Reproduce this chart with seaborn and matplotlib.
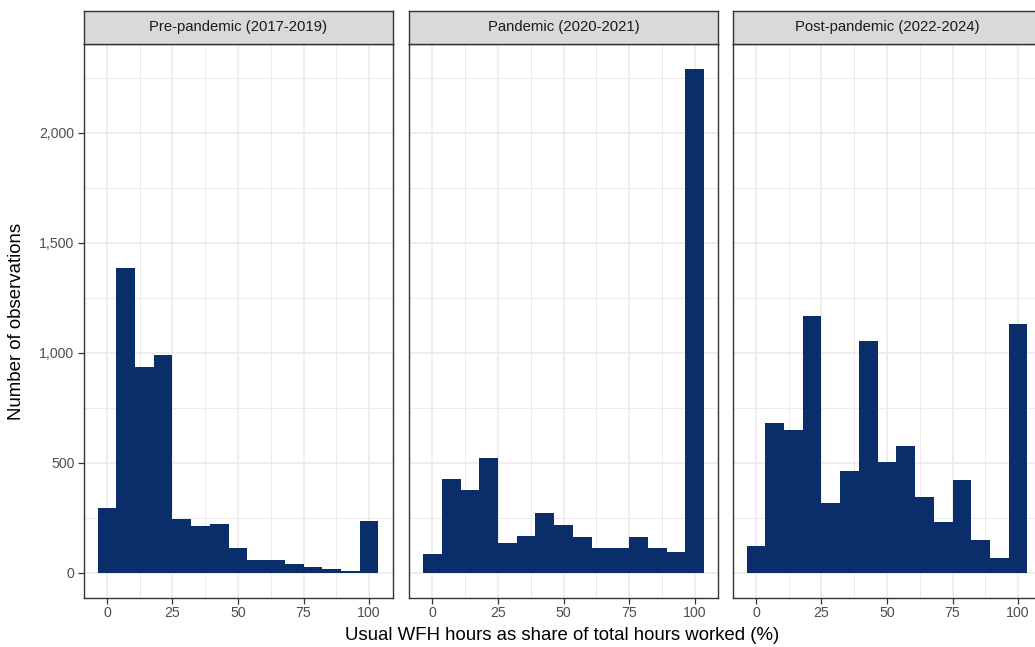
import numpy as np
import pandas as pd
import matplotlib
matplotlib.use("Agg")
import matplotlib.pyplot as plt
import seaborn as sns
from matplotlib.ticker import FuncFormatter, MultipleLocator

sns.set_theme(style="white")
plt.rcParams['font.family'] = ['Liberation Sans', 'DejaVu Sans']

# ---- data ----
periods = ["Pre-pandemic (2017-2019)", "Pandemic (2020-2021)", "Post-pandemic (2022-2024)"]
n_bins = 15
pre_counts = [296, 1387, 938, 990, 243, 211, 220, 112, 58, 58, 38, 25, 16, 8, 234]
pandemic_counts = [86, 428, 375, 521, 135, 169, 271, 219, 161, 112, 112, 161, 112, 94, 2290]
post_counts = [123, 683, 648, 1168, 316, 464, 1053, 502, 576, 345, 230, 423, 151, 69, 1132]
x_ticks = [0, 25, 50, 75, 100]
y_ticks = [0, 500, 1000, 1500, 2000]

counts_list = [pre_counts, pandemic_counts, post_counts]
centers = np.linspace(0, 100, n_bins)
bw = 100 / (n_bins - 1)
brange = (centers[0] - bw / 2, centers[-1] + bw / 2)

W, H = 1035, 647
fig = plt.figure(figsize=(W / 100, H / 100), dpi=100)

panel_lefts = [83.5, 409, 732.5]
panel_w = 309
panel_top, panel_bot = 44, 598
strip_top = 11

bar_color = "#0A2E6A"
grid_col = "#EBEBEB"
border_col = "#333333"

span = brange[1] - brange[0]
xmin, xmax = brange[0] - 0.05 * span, brange[1] + 0.05 * span
ymax_data = max(max(c) for c in counts_list)
ymin, ymax = -0.05 * ymax_data, 1.05 * ymax_data

for i, (period, counts) in enumerate(zip(periods, counts_list)):
    l = panel_lefts[i] / W
    b = (H - panel_bot) / H
    w = panel_w / W
    h = (panel_bot - panel_top) / H
    ax = fig.add_axes([l, b, w, h])
    df = pd.DataFrame({"share": centers, "n": np.asarray(counts, dtype=float)})
    sns.histplot(data=df, x="share", weights="n", binwidth=bw, binrange=brange, ax=ax,
                 color=bar_color, alpha=1, linewidth=0, edgecolor=bar_color)
    ax.set_xlim(xmin, xmax)
    ax.set_ylim(ymin, ymax)
    ax.set_xticks(x_ticks)
    ax.xaxis.set_minor_locator(MultipleLocator(12.5))
    ax.set_yticks(y_ticks)
    ax.yaxis.set_minor_locator(MultipleLocator(250))
    ax.grid(which="major", color=grid_col, linewidth=1.2)
    ax.grid(which="minor", color=grid_col, linewidth=0.7)
    ax.set_axisbelow(True)
    for s in ax.spines.values():
        s.set_color(border_col)
        s.set_linewidth(1.0)
    ax.tick_params(axis="x", which="major", length=4, width=0.9, color=border_col,
                   labelsize=10.2, labelcolor="#4D4D4D", pad=2, bottom=True)
    ax.tick_params(which="minor", length=0)
    if i == 0:
        ax.tick_params(axis="y", which="major", length=4, width=0.9, color=border_col,
                       labelsize=10.2, labelcolor="#4D4D4D", pad=2.5, left=True)
        ax.yaxis.set_major_formatter(FuncFormatter(lambda v, p: f"{int(v):,}"))
    else:
        ax.tick_params(axis="y", which="major", left=False, labelleft=False)
    ax.set_xlabel("")
    ax.set_ylabel("")

    # strip
    sb = (H - panel_top) / H
    sh = (panel_top - strip_top) / H
    sax = fig.add_axes([l, sb, w, sh])
    sax.set_facecolor("#D9D9D9")
    sax.set_xticks([])
    sax.set_yticks([])
    for s in sax.spines.values():
        s.set_color(border_col)
        s.set_linewidth(1.0)
    sax.text(0.5, 0.5, period, ha="center", va="center", fontsize=10.7,
             color="#1A1A1A", transform=sax.transAxes)

fig.text((83.5 + 1041.5) / 2 / W, 1 - 635 / H,
         "Usual WFH hours as share of total hours worked (%)",
         ha="center", va="center", fontsize=13.4, color="#000000")
fig.text(17 / W, 1 - 321 / H, "Number of observations", rotation=90,
         ha="center", va="center", fontsize=13.4, color="#000000")

fig.savefig("out.png", dpi=100, facecolor="white")
